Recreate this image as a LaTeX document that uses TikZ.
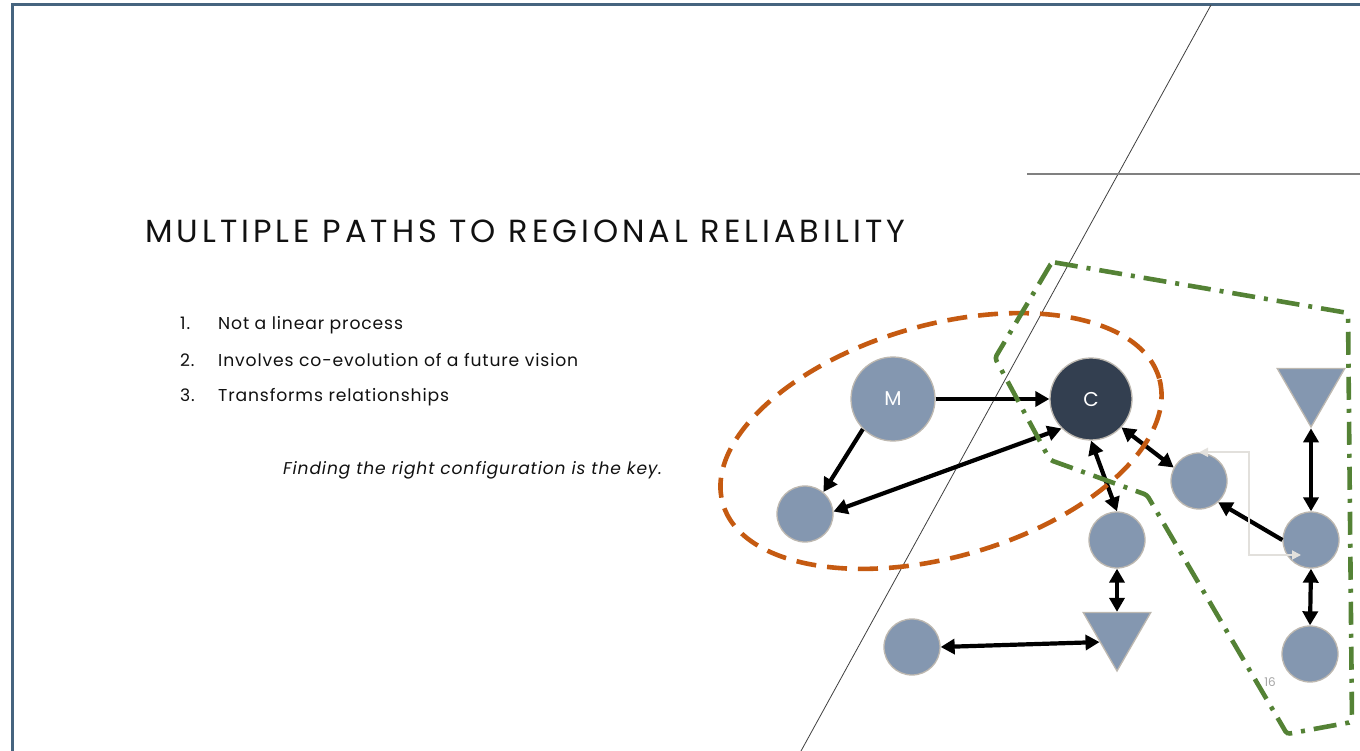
\documentclass[tikz,border=0pt]{standalone}
\usepackage{fontspec}
\setmainfont{Poppins}
\newfontfamily\titlefont[LetterSpace=12.5]{Poppins}
\newfontfamily\listfont[LetterSpace=5]{Poppins}
\usetikzlibrary{shapes.geometric,arrows.meta,calc}
\definecolor{frameblue}{HTML}{46647F}
\definecolor{nodefill}{HTML}{8497B0}
\definecolor{nodeedge}{HTML}{BDB8B0}
\definecolor{darkc}{HTML}{333F50}
\definecolor{orng}{HTML}{C55A11}
\definecolor{grn}{HTML}{548235}
\definecolor{lgray}{HTML}{E2E0DC}
\definecolor{txt}{HTML}{111111}
\tikzset{
  circ/.style={circle, fill=nodefill, draw=nodeedge, line width=1.3pt, minimum size=#1, inner sep=0pt},
  circ/.default=56pt,
  tri/.style={regular polygon, regular polygon sides=3, shape border rotate=180, fill=nodefill, draw=nodeedge, line width=1.3pt, minimum size=78pt, inner sep=0pt},
  arr/.style={line width=4.2pt, black, -{Triangle[length=14pt,width=15pt]}},
  darr/.style={line width=4.2pt, black, {Triangle[length=14pt,width=15pt]}-{Triangle[length=14pt,width=15pt]}},
  larr/.style={line width=1.8pt, lgray, {Triangle[length=9pt,width=9pt]}-{Triangle[length=9pt,width=9pt]}},
  orangering/.style={draw=orng, line width=4.6pt, dash pattern=on 20pt off 11pt},
  greenring/.style={draw=grn, line width=4.6pt, dash pattern=on 23pt off 9pt on 4pt off 9pt, rounded corners=3pt},
  listnum/.style={anchor=base west, inner sep=0pt, text=txt, font=\listfont\fontsize{17.2}{20}\selectfont},
}
\begin{document}
\begin{tikzpicture}[x=1pt,y=-1pt]
\useasboundingbox (0,0) rectangle (1360,751);
\fill[white] (0,0) rectangle (1360,751);
% frame
\draw[frameblue, line width=3pt] (12,751) -- (12,5) -- (1360,5);
% decorative lines
\begin{scope}
\clip (0,0) rectangle (1360,751);
\draw[black!75, line width=0.8pt] (1211,5) -- (801,751);
\end{scope}
\draw[gray, line width=1.5pt] (1027,174) -- (1360,174);
% title
\node[anchor=base west, inner sep=0pt, text=txt, font=\titlefont\fontsize{32}{34}\selectfont] (title) at (145,243) {MULTIPLE PATHS TO REGIONAL RELIABILITY};
% list
\node[listnum] (n1) at (180,330) {1.};
\node[listnum] (t1x) at (218,330) {Not a linear process};
\node[listnum] (n2) at (180,366) {2.};
\node[listnum] (t2x) at (218,366) {Involves co-evolution of a future vision};
\node[listnum] (n3) at (180,401) {3.};
\node[listnum] (t3x) at (218,401) {Transforms relationships};
\node[anchor=base west, inner sep=0pt, text=txt, font=\listfont\itshape\fontsize{17.1}{20}\selectfont] (key) at (283,474) {Finding the right configuration is the key.};
% nodes
\node[circ=84pt, text=white, font=\fontsize{20}{20}\selectfont] (M) at (893,399) {M};
\node[circ=82pt, fill=darkc, text=white, font=\fontsize{20}{20}\selectfont] (C) at (1091,399) {C};
\node[circ] (sl) at (805,514) {};
\node[circ] (r1) at (1199,481) {};
\node[circ] (cb) at (1117,540) {};
\node[circ] (rl) at (1311,540) {};
\node[circ] (br) at (1310,654) {};
\node[circ] (bl) at (912,647) {};
\node[tri] (tA) at (1311,388) {};
\node[tri] (tB) at (1117,632) {};
% connectors
\draw[arr] (M.east) -- (C.west);
\draw[arr] (M.225) -- (sl.50);
\draw[darr] (C.225) -- (sl.5);
\draw[darr] (C.south) -- (cb.north);
\draw[darr] (C.-43) -- (r1.152);
\draw[arr] (rl.west) -- (r1.-48);
\draw[darr] (tA.south) -- (rl.north);
\draw[darr] (rl.south) -- (br.north);
\draw[darr] (cb.south) -- (tB.north);
\draw[darr] (bl.east) -- (tB.210);
\coordinate (lgend) at ($(rl.center)+(-10,15)$);
\draw[larr] (r1.north) -- ++(50,0) |- (lgend);
% groupings
\draw[orangering, rotate around={16:(941,441)}] (941,441) ellipse [x radius=227pt, y radius=116pt];
\draw[greenring] (1052,262) -- (1348,313) -- (1352,722) -- (1287,734) -- (1147,495) -- (1050,460) -- (995,358) -- cycle;
% page number
\node[text=gray!70, font=\fontsize{12}{12}\selectfont] (pg) at (1270,682) {16};
\end{tikzpicture}
\end{document}
